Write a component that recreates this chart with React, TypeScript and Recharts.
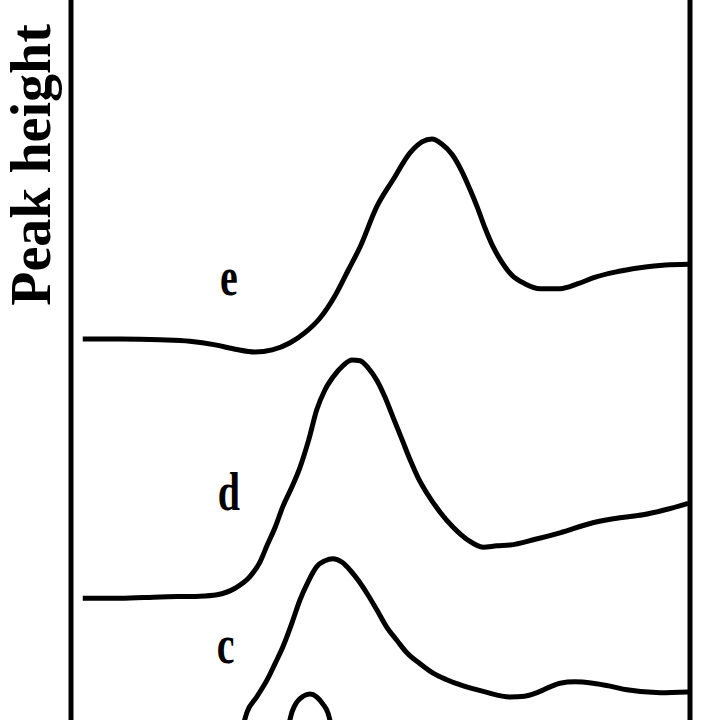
import { LineChart, Line, XAxis, YAxis, ReferenceLine, ReferenceDot } from "recharts";

// x positions (arbitrary units, 0-100 across the frame) and peak heights per trace
const eX = [1.9, 7.9, 14.4, 19.2, 23.3, 26.5, 29.7, 32.5, 35.4, 37.8, 40.2, 42.7, 44.8, 46.7, 49.4, 52.0, 54.8, 56.7, 58.3, 59.9, 61.6, 63.2, 64.5, 65.6, 66.9, 68.2, 69.6, 71.2, 73.3, 75.8, 79.0, 81.9, 84.7, 87.9, 91.9, 96.0, 99.7];
const eY = [52.9, 52.9, 52.8, 52.6, 52.1, 51.5, 51.1, 51.4, 52.4, 53.8, 55.8, 59.0, 62.5, 65.7, 71.3, 75.0, 78.8, 80.3, 80.7, 80.0, 78.5, 76.1, 73.6, 71.3, 68.3, 65.7, 63.6, 61.8, 60.6, 59.9, 59.9, 60.6, 61.5, 62.2, 62.8, 63.2, 63.3];

const dX = [1.9, 7.9, 14.4, 20.8, 23.6, 26.5, 28.9, 30.5, 31.7, 33.0, 34.2, 35.7, 37.0, 38.4, 39.7, 41.0, 42.3, 43.9, 45.4, 46.7, 48.0, 49.4, 50.7, 52.0, 53.5, 54.8, 56.1, 57.5, 59.6, 61.7, 64.1, 66.6, 68.8, 70.9, 75.0, 79.0, 84.3, 88.7, 92.4, 96.0, 99.7];
const dY = [16.9, 16.9, 17.1, 17.2, 17.4, 18.3, 19.9, 21.9, 24.3, 26.8, 29.6, 32.4, 35.1, 38.9, 43.1, 45.8, 47.6, 49.2, 50.0, 49.9, 48.9, 47.2, 44.9, 42.1, 38.9, 36.1, 33.6, 31.5, 28.9, 26.8, 25.0, 24.0, 24.2, 24.3, 25.1, 26.0, 27.4, 28.1, 28.5, 29.2, 30.1];

const cX = [27.6, 28.4, 30.0, 31.7, 33.0, 34.2, 35.7, 37.0, 38.3, 39.7, 41.0, 42.3, 43.8, 45.1, 46.4, 47.8, 49.4, 51.0, 52.7, 54.3, 56.4, 58.5, 60.7, 62.8, 66.9, 70.9, 73.3, 75.3, 77.4, 79.0, 81.4, 84.3, 87.1, 89.8, 95.2, 99.7];
const cY = [-1.5, 1.0, 3.2, 5.6, 7.9, 10.1, 13.5, 16.7, 19.2, 21.3, 22.1, 22.4, 21.9, 20.8, 19.4, 17.6, 15.3, 12.9, 11.0, 9.3, 7.8, 6.5, 5.6, 4.9, 3.9, 3.2, 3.3, 3.8, 4.6, 5.1, 5.3, 5.1, 4.7, 4.2, 3.8, 3.9];

const bX = [35.1, 35.7, 36.5, 37.5, 38.6, 39.7, 40.7, 41.5, 42.1];
const bY = [-1.0, 1.1, 2.5, 3.3, 3.6, 3.2, 2.2, 1.0, -1.0];

const traceNames = ["b", "c", "d", "e"];
const traceX = [bX, cX, dX, eX];
const traceY = [bY, cY, dY, eY];

// label letters next to each trace
const labelNames = ["c", "d", "e"];
const labelX = [25.0, 25.5, 25.5];
const labelY = [10.6, 31.8, 61.7];

const leftTicks = [51.7, 82.4];

const serif = "'Liberation Serif', 'Times New Roman', serif";

const traces = traceNames.map((name, i) => ({
  name,
  data: traceX[i].map((x, j) => ({ x, y: traceY[i][j] })),
}));

const LetterLabel = (props: any) => {
  const { viewBox, value } = props;
  const cx = viewBox.x;
  const cy = viewBox.y;
  return (
    <text
      transform={`translate(${cx},${cy}) scale(1,1.35)`}
      x={0}
      y={0}
      dy="0.35em"
      textAnchor="middle"
      fontFamily={serif}
      fontWeight="bold"
      fontSize={40}
      fill="#000"
    >
      {value}
    </text>
  );
};

const AxisTitle = (props: any) => {
  const { viewBox } = props;
  const px = viewBox.x + 50;
  const py = 165;
  return (
    <text
      x={px}
      y={py}
      transform={`rotate(-90, ${px}, ${py})`}
      textAnchor="middle"
      fontFamily={serif}
      fontWeight="bold"
      fontSize={56}
      fill="#000"
    >
      Peak height
    </text>
  );
};

export default function App() {
  return (
    <div style={{ position: "absolute", top: 0, left: 0, width: 720, height: 720, background: "#fff" }}>
      <LineChart width={720} height={720} margin={{ top: 0, right: 30, bottom: 0, left: 0 }}>
        <XAxis type="number" dataKey="x" domain={[0, 100]} hide allowDataOverflow />
        <YAxis
          type="number"
          dataKey="y"
          width={71}
          domain={[0, 100]}
          allowDataOverflow
          ticks={leftTicks}
          tick={false}
          tickSize={6}
          tickLine={{ stroke: "#000", strokeWidth: 2 }}
          axisLine={{ stroke: "#000", strokeWidth: 5 }}
          label={<AxisTitle />}
        />
        <ReferenceLine x={100} stroke="#000" strokeWidth={5} />
        {traces.map((t) => (
          <Line
            key={t.name}
            data={t.data}
            dataKey="y"
            type="monotone"
            stroke="#000"
            strokeWidth={5}
            dot={false}
            activeDot={false}
            isAnimationActive={false}
          />
        ))}
        {labelNames.map((name, i) => (
          <ReferenceDot
            key={name}
            x={labelX[i]}
            y={labelY[i]}
            r={0}
            fill="none"
            stroke="none"
            label={<LetterLabel value={name} />}
          />
        ))}
      </LineChart>
    </div>
  );
}
